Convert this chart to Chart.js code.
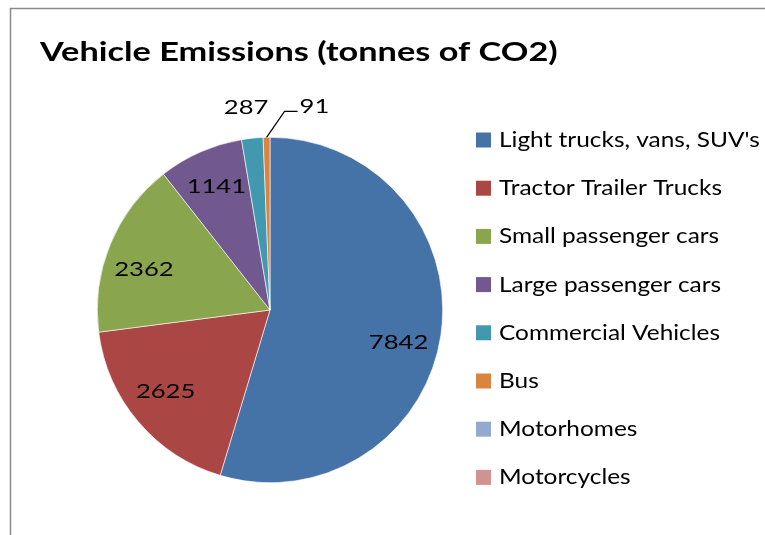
<!DOCTYPE html>
<html>
<head>
<meta charset="utf-8">
<script src="https://cdn.jsdelivr.net/npm/chart.js@4/dist/chart.umd.min.js"></script>
<style>
  html, body { margin: 0; padding: 0; background: #ffffff; }
  canvas { display: block; }
</style>
</head>
<body>
<canvas id="c" width="765" height="535"></canvas>
<script>
const chartTitle = "Vehicle Emissions (tonnes of CO2)";
const categories = [
  "Light trucks, vans, SUV's",
  "Tractor Trailer Trucks",
  "Small passenger cars",
  "Large passenger cars",
  "Commercial Vehicles",
  "Bus",
  "Motorhomes",
  "Motorcycles"
];
const emissions = [7842, 2625, 2362, 1141, 287, 91, 0, 0];
const sliceColors = ["#4572A7", "#AA4643", "#89A54E", "#71588F", "#4198AF", "#DB843D", "#93A9CF", "#D19392"];

const FONT = "Lato, 'Open Sans', sans-serif";

// draw text with a horizontal stretch factor sx
function stretchText(ctx, text, x, y, align, sx) {
  ctx.save();
  ctx.translate(x, y);
  ctx.scale(sx, 1);
  ctx.textAlign = align;
  ctx.fillText(text, 0, 0);
  ctx.restore();
}

const framePlugin = {
  id: 'frame',
  beforeDraw(chart) {
    const ctx = chart.ctx;
    ctx.save();
    ctx.fillStyle = '#ffffff';
    ctx.fillRect(0, 0, chart.width, chart.height);
    ctx.strokeStyle = '#8a8a8a';
    ctx.lineWidth = 1.5;
    ctx.beginPath();
    ctx.moveTo(10.5, chart.height + 2);
    ctx.lineTo(10.5, 8.5);
    ctx.lineTo(chart.width + 2, 8.5);
    ctx.stroke();
    ctx.fillStyle = '#000000';
    ctx.font = "bold 27px " + FONT;
    ctx.textBaseline = 'alphabetic';
    stretchText(ctx, chartTitle, 40, 61, 'left', 1.27);
    ctx.restore();
  }
};

const labelPlugin = {
  id: 'sliceLabels',
  afterDatasetsDraw(chart, args, opts) {
    const ctx = chart.ctx;
    const meta = chart.getDatasetMeta(0);
    const data = chart.data.datasets[0].data;
    ctx.save();
    ctx.font = "20px " + FONT;
    ctx.fillStyle = '#000000';
    ctx.textBaseline = 'middle';
    meta.data.forEach((arc, i) => {
      const v = data[i];
      if (!v) return;
      const p = arc.getProps(['x', 'y', 'startAngle', 'endAngle', 'outerRadius'], true);
      const mid = (p.startAngle + p.endAngle) / 2;
      const R = p.outerRadius;
      const cfg = (opts.special && opts.special[i]) || {};
      if (cfg.leader) {
        const ex = p.x + Math.cos(mid) * R;
        const ey = p.y + Math.sin(mid) * R;
        const bx = ex + cfg.leader[0], by = ey + cfg.leader[1];
        const tx = bx + cfg.leader[2];
        ctx.strokeStyle = '#000000';
        ctx.lineWidth = 1.2;
        ctx.beginPath();
        ctx.moveTo(ex, ey);
        ctx.lineTo(bx, by);
        ctx.lineTo(tx, by);
        ctx.stroke();
        stretchText(ctx, String(v), tx + 2, by - 5, 'left', opts.sx);
      } else {
        const f = cfg.r || opts.r;
        const lx = p.x + Math.cos(mid) * R * f + (cfg.dx || 0);
        const ly = p.y + Math.sin(mid) * R * f + (cfg.dy || 0);
        stretchText(ctx, String(v), lx, ly, 'center', opts.sx);
      }
    });
    ctx.restore();
  }
};

const legendPlugin = {
  id: 'sideLegend',
  afterDraw(chart, args, opts) {
    const ctx = chart.ctx;
    const labels = chart.data.labels;
    const colors = chart.data.datasets[0].backgroundColor;
    ctx.save();
    ctx.font = "22px " + FONT;
    ctx.textBaseline = 'middle';
    labels.forEach((lab, i) => {
      const cy = opts.top + i * opts.step;
      ctx.fillStyle = colors[i];
      ctx.fillRect(opts.x, cy - opts.box / 2, opts.box, opts.box);
      ctx.fillStyle = '#000000';
      stretchText(ctx, lab, opts.x + opts.box + 8, cy, 'left', opts.sx);
    });
    ctx.restore();
  }
};

new Chart(document.getElementById('c'), {
  type: 'pie',
  data: {
    labels: categories,
    datasets: [{
      data: emissions,
      backgroundColor: sliceColors,
      borderColor: '#ffffff',
      borderWidth: 0.6
    }]
  },
  options: {
    responsive: false,
    animation: false,
    layout: { padding: { left: 97, right: 322, top: 137, bottom: 52 } },
    plugins: {
      legend: { display: false },
      title: { display: false },
      tooltip: { enabled: false },
      sliceLabels: {
        r: 0.77,
        sx: 1.28,
        special: {
          0: { dx: -3, dy: 13 },
          1: { dx: -3, dy: -4 },
          2: { dx: -3, dy: 10 },
          3: { dy: -2 },
          4: { r: 1.18, dx: -3 },
          5: { leader: [18, -26, 13] }
        }
      },
      sideLegend: { x: 476, top: 140, step: 48.2, box: 15, sx: 1.11 }
    }
  },
  plugins: [framePlugin, labelPlugin, legendPlugin]
});
</script>
</body>
</html>
